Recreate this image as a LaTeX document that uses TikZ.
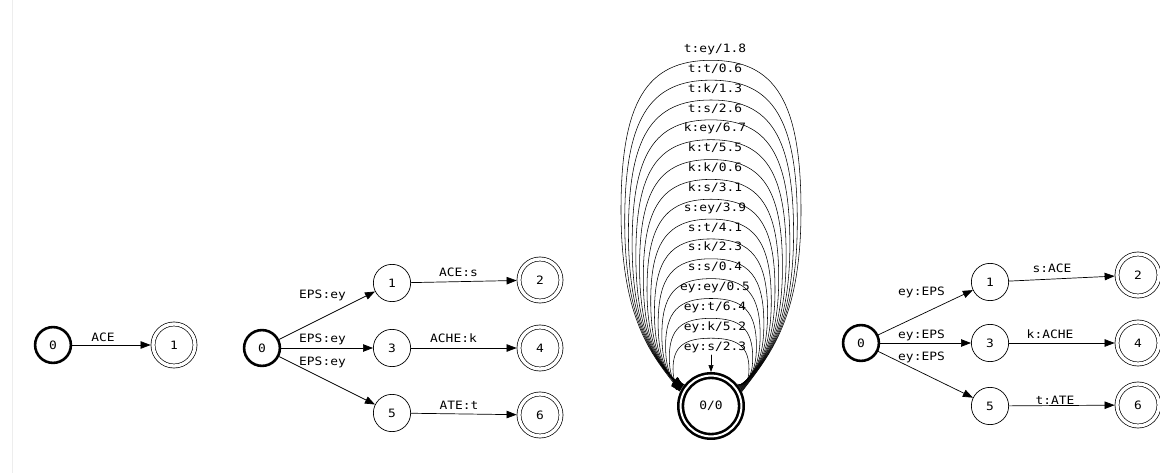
\documentclass[tikz,border=0pt]{standalone}
\usepackage{fontspec}
\setmonofont[FakeStretch=1.12]{DejaVu Sans Mono}
\usetikzlibrary{arrows.meta}
\tikzset{
  >={Triangle[length=10pt,width=7.5pt]},
  every picture/.style={line cap=round, line join=round},
  lbl/.style={font=\ttfamily\fontsize{11.5}{12}\selectfont, text=black,
    inner sep=0pt, text height=8.4pt, text depth=0pt},
  state/.style={circle, draw, line width=0.7pt, minimum size=37.3pt,
    inner sep=0pt, font=\ttfamily\fontsize{11.5}{12}\selectfont},
  startstate/.style={state, line width=2.6pt, minimum size=35.8pt},
  finalstate/.style={state, double, double distance=3.3pt,
    minimum size=42pt, outer sep=2.4pt},
  trans/.style={draw, line width=0.7pt, ->},
}

\begin{document}
\begin{tikzpicture}[x=1pt, y=-1pt,
  selfloop/.style={draw, line width=0.55pt, ->},
  bigfinal/.style={state, line width=2.6pt, double, double distance=2pt,
    minimum size=60.8pt, outer sep=3.6pt},
]
\useasboundingbox (0,0) rectangle (1160,473);
\draw[black!7, line width=0.6pt] (12,0) -- (12,473);

% ------------------------------------------------------------- (a)
\node[startstate] (a0) at (53,345) {0};
\node[finalstate] (a1) at (174,345) {1};
\draw[trans] (a0) -- (a1);
\node[lbl] (la01) at (103,337) {ACE};

% ------------------------------------------------------------- (b)
\node[startstate] (b0) at (262,348) {0};
\node[state] (b1) at (392,283) {1};
\node[state] (b3) at (392,348) {3};
\node[state] (b5) at (392,413) {5};
\node[finalstate] (b2) at (540,280) {2};
\node[finalstate] (b4) at (540,348) {4};
\node[finalstate] (b6) at (540,415) {6};
\draw[trans] (b0) -- (b1);
\draw[trans] (b0) -- (b3);
\draw[trans] (b0) -- (b5);
\draw[trans] (b1) -- (b2);
\draw[trans] (b3) -- (b4);
\draw[trans] (b5) -- (b6);
\node[lbl] (lb01) at (322.5,294) {EPS:ey};
\node[lbl] (lb03) at (322.5,338.5) {EPS:ey};
\node[lbl] (lb05) at (322.5,361) {EPS:ey};
\node[lbl] (lb12) at (458.5,272.5) {ACE:s};
\node[lbl] (lb34) at (453.5,338.5) {ACHE:k};
\node[lbl] (lb56) at (459,405.5) {ATE:t};

% ------------------------------------------------------------- (c)
\node[bigfinal] (c0) at (711,406) {0/0};
\foreach \i in {0,...,14} {
  \pgfmathsetmacro\t{\i/14}
  \pgfmathsetmacro\ya{60.3+19.85*\i}
  \pgfmathsetmacro\w{90-52*\t}
  \pgfmathsetmacro\yw{\ya+150-119*\t}
  \pgfmathsetmacro\ylo{\yw+0.6*(390-\yw)}
  \pgfmathsetmacro\yst{390-0.2*(390-\yw)}
  \pgfmathsetmacro\yup{\yw-0.72*(\yw-\ya)}
  \pgfmathsetmacro\aout{25+15*\t}
  \pgfmathsetmacro\ain{155-15*\t}
  \draw[selfloop] (c0.\aout)
    .. controls ({740+0.5*(\w-29)},\yst) and ({711+\w},\ylo) .. ({711+\w},\yw)
    .. controls ({711+\w},\yup) and ({711+0.72*\w},\ya) .. (711,\ya)
    .. controls ({711-0.72*\w},\ya) and ({711-\w},\yup) .. ({711-\w},\yw)
    .. controls ({711-\w},\ylo) and ({682-0.5*(\w-29)},\yst) .. (c0.\ain);
}
\foreach \txt [count=\i from 0] in {t:ey/1.8, t:t/0.6, t:k/1.3, t:s/2.6,
    k:ey/6.7, k:t/5.5, k:k/0.6, k:s/3.1, s:ey/3.9, s:t/4.1, s:k/2.3,
    s:s/0.4, ey:ey/0.5, ey:t/6.4, ey:k/5.2, ey:s/2.3}
  \node[lbl] (lc\i) at (715,{48.3+19.85*\i}) {\txt};
\coordinate (cs) at (711,355);
\draw[selfloop, -{Triangle[length=7pt,width=5pt]}] (cs) -- (c0.north);

% ------------------------------------------------------------- (d)
\node[startstate] (d0) at (861,343) {0};
\node[state] (d1) at (990,282) {1};
\node[state] (d3) at (990,343) {3};
\node[state] (d5) at (990,406) {5};
\node[finalstate] (d2) at (1138,275) {2};
\node[finalstate] (d4) at (1138,343) {4};
\node[finalstate] (d6) at (1138,405) {6};
\draw[trans] (d0) -- (d1);
\draw[trans] (d0) -- (d3);
\draw[trans] (d0) -- (d5);
\draw[trans] (d1) -- (d2);
\draw[trans] (d3) -- (d4);
\draw[trans] (d5) -- (d6);
\node[lbl] (ld01) at (921.5,291) {ey:EPS};
\node[lbl] (ld03) at (921.5,334) {ey:EPS};
\node[lbl] (ld05) at (921.5,356.5) {ey:EPS};
\node[lbl] (ld12) at (1052,268) {s:ACE};
\node[lbl] (ld34) at (1050,334) {k:ACHE};
\node[lbl] (ld56) at (1055,400) {t:ATE};
\end{tikzpicture}
\end{document}
